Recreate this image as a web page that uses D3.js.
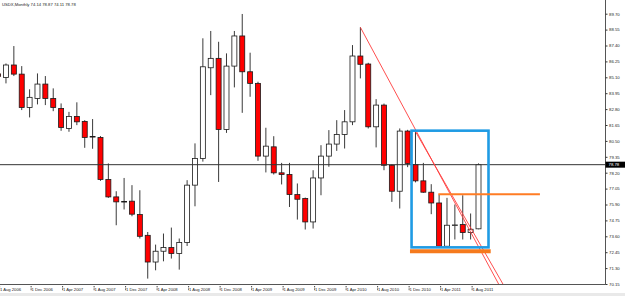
<!DOCTYPE html>
<html>
<head>
<meta charset="utf-8">
<script src="https://cdn.jsdelivr.net/npm/d3@7"></script>
<style>
  body { margin: 0; background: #fff; }
  text { font-family: 'Liberation Sans', Arial, sans-serif; fill: #222; }
</style>
</head>
<body>
<div id="main"></div>
<script>
/*********************************************************
 * Data
 *********************************************************/

// monthly candles, Aug 2006 .. Sep 2011
const months = [
  'Aug 2006', 'Sep 2006', 'Oct 2006', 'Nov 2006', 'Dec 2006',
  'Jan 2007', 'Feb 2007', 'Mar 2007', 'Apr 2007', 'May 2007', 'Jun 2007',
  'Jul 2007', 'Aug 2007', 'Sep 2007', 'Oct 2007', 'Nov 2007', 'Dec 2007',
  'Jan 2008', 'Feb 2008', 'Mar 2008', 'Apr 2008', 'May 2008', 'Jun 2008',
  'Jul 2008', 'Aug 2008', 'Sep 2008', 'Oct 2008', 'Nov 2008', 'Dec 2008',
  'Jan 2009', 'Feb 2009', 'Mar 2009', 'Apr 2009', 'May 2009', 'Jun 2009',
  'Jul 2009', 'Aug 2009', 'Sep 2009', 'Oct 2009', 'Nov 2009', 'Dec 2009',
  'Jan 2010', 'Feb 2010', 'Mar 2010', 'Apr 2010', 'May 2010', 'Jun 2010',
  'Jul 2010', 'Aug 2010', 'Sep 2010', 'Oct 2010', 'Nov 2010', 'Dec 2010',
  'Jan 2011', 'Feb 2011', 'Mar 2011', 'Apr 2011', 'May 2011', 'Jun 2011',
  'Jul 2011', 'Aug 2011', 'Sep 2011'
];
const open = [
  85.35, 85.09, 85.99, 85.33, 82.92,
  83.57, 84.61, 83.57, 82.85, 81.40, 82.27,
  81.91, 80.82, 80.75, 77.71, 76.45, 76.09,
  76.14, 75.17, 73.67, 71.74, 72.52, 72.79,
  72.35, 73.15, 77.30, 79.23, 85.79, 86.47,
  81.33, 85.91, 88.09, 85.50, 84.66, 79.40,
  80.07, 78.19, 78.07, 76.62, 76.33, 74.64,
  77.82, 79.40, 80.27, 80.97, 81.88, 86.64,
  86.06, 81.52, 83.09, 78.74, 76.86, 81.21,
  78.79, 77.61, 76.79, 76.01, 72.88, 74.40,
  74.45, 73.87, 74.14
];
const high = [
  85.60, 86.10, 87.36, 85.91, 84.23,
  85.38, 85.19, 84.30, 83.21, 82.60, 83.29,
  82.00, 82.08, 80.85, 78.87, 76.86, 77.82,
  77.30, 76.93, 73.91, 73.00, 73.80, 74.23,
  73.44, 77.66, 80.32, 87.92, 88.45, 87.67,
  86.83, 88.45, 89.68, 86.88, 84.78, 81.45,
  80.84, 78.91, 78.91, 77.42, 76.40, 78.38,
  80.19, 81.28, 82.00, 82.73, 87.43, 88.72,
  86.15, 83.52, 83.20, 78.80, 81.40, 81.30,
  81.16, 78.91, 77.37, 76.62, 76.38, 75.90,
  76.57, 75.25, 78.87
];
const low = [
  84.90, 84.66, 85.19, 82.73, 82.20,
  83.14, 83.09, 82.65, 81.23, 81.16, 81.64,
  80.00, 79.93, 77.61, 76.38, 74.40, 75.54,
  75.05, 73.44, 70.54, 71.14, 71.79, 71.99,
  71.19, 72.90, 75.77, 79.00, 83.81, 77.53,
  81.08, 84.37, 82.53, 83.69, 79.06, 78.22,
  78.07, 77.35, 75.72, 74.81, 74.09, 74.16,
  76.57, 78.63, 79.78, 79.95, 81.64, 85.02,
  81.40, 80.03, 78.38, 76.09, 75.61, 78.60,
  77.50, 76.75, 75.20, 72.76, 72.76, 73.37,
  73.37, 73.37, 74.11
];
const close = [
  85.16, 85.99, 85.33, 82.92, 83.65,
  84.61, 83.57, 82.92, 81.47, 82.27, 81.88,
  80.75, 80.78, 77.71, 76.45, 76.09, 76.12,
  75.20, 73.60, 71.74, 72.52, 72.79, 72.35,
  73.15, 77.30, 79.23, 85.86, 86.47, 81.33,
  85.91, 88.09, 85.50, 84.66, 79.40, 80.12,
  78.19, 78.07, 76.62, 76.28, 74.64, 77.82,
  79.40, 80.27, 80.97, 81.88, 86.64, 86.04,
  81.52, 83.09, 78.74, 76.86, 81.21, 78.87,
  77.61, 76.79, 76.01, 72.88, 74.40, 74.42,
  73.87, 74.11, 78.78
];

// axis labels
const priceTicks = [
  '89.70', '88.55', '87.40', '86.25', '85.10', '83.95', '82.80', '81.65', '80.50',
  '79.35', '78.20', '77.05', '75.90', '74.75', '73.60', '72.45', '71.30', '70.15'
];
const dateTicks = [
  '1 Aug 2006', '1 Dec 2006', '1 Apr 2007', '1 Aug 2007', '1 Dec 2007', '1 Apr 2008',
  '1 Aug 2008', '1 Dec 2008', '1 Apr 2009', '1 Aug 2009', '1 Dec 2009', '1 Apr 2010',
  '1 Aug 2010', '1 Dec 2010', '1 Apr 2011', '1 Aug 2011'
];

// drawn objects: [month index, price]
const trendLineA = [[46, 88.72], [63.6, 70.1]];
const trendLineB = [[52.94, 81.23], [64.15, 70.1]];
const boxCorners = [[52.5, 81.24], [62.27, 72.80]];
const supportBar = [[52.3, 72.51], [62.55, 72.51]];
const resistLine = [[55.9, 76.64], [68.8, 76.64]];

const title = 'USDX,Monthly  74.14 78.87 74.11 78.78';

/*********************************************************
 * Layout
 *********************************************************/

const svgWidth = 625;
const svgHeight = 296;
const plotRight = 605.5;
const plotBottom = 284.5;

const svg = d3
  .select('#main')
  .append('svg')
  .attr('width', svgWidth)
  .attr('height', svgHeight);

svg.append('rect')
  .attr('width', svgWidth)
  .attr('height', svgHeight)
  .attr('fill', '#fff');

svg.append('rect')
  .attr('y', 293)
  .attr('width', svgWidth)
  .attr('height', 3)
  .attr('fill', '#e9e9e9');

const x = d3.scaleLinear().domain([0, months.length - 1]).range([-1.9, 478.5]);
const y = d3.scaleLinear().domain([70.15, 89.70]).range([284, 13.7]);

svg.append('clipPath')
  .attr('id', 'plot-clip')
  .append('rect')
  .attr('width', plotRight)
  .attr('height', plotBottom);

const plot = svg.append('g').attr('clip-path', 'url(#plot-clip)');

/*********************************************************
 * Candles
 *********************************************************/

const candles = months.map((m, i) => ({
  i: i, o: open[i], h: high[i], l: low[i], c: close[i]
}));
const bodyW = 5;

plot.selectAll('.wick')
  .data(candles)
  .enter()
  .append('line')
  .attr('class', 'wick')
  .attr('x1', d => x(d.i))
  .attr('x2', d => x(d.i))
  .attr('y1', d => y(d.h))
  .attr('y2', d => y(d.l))
  .attr('stroke', '#3a3a3a')
  .attr('stroke-width', 1);

plot.selectAll('.body')
  .data(candles)
  .enter()
  .append('rect')
  .attr('class', 'body')
  .attr('x', d => x(d.i) - bodyW / 2)
  .attr('y', d => y(Math.max(d.o, d.c)))
  .attr('width', bodyW)
  .attr('height', d => Math.max(0.6, Math.abs(y(d.o) - y(d.c))))
  .attr('fill', d => (d.c < d.o ? '#ff0000' : '#ffffff'))
  .attr('stroke', '#1a1a1a')
  .attr('stroke-width', 0.8);

/*********************************************************
 * Price line and drawings
 *********************************************************/

const lastClose = close[close.length - 1];

plot.append('line')
  .attr('x1', 0)
  .attr('x2', plotRight)
  .attr('y1', y(lastClose))
  .attr('y2', y(lastClose))
  .attr('stroke', '#333')
  .attr('stroke-width', 1);

const line = d3.line().x(d => x(d[0])).y(d => y(d[1]));

[trendLineA, trendLineB].forEach(pts => {
  plot.append('path')
    .attr('d', line(pts))
    .attr('fill', 'none')
    .attr('stroke', '#ff3b3b')
    .attr('stroke-width', 0.9);
});

plot.append('rect')
  .attr('x', x(boxCorners[0][0]))
  .attr('y', y(boxCorners[0][1]))
  .attr('width', x(boxCorners[1][0]) - x(boxCorners[0][0]))
  .attr('height', y(boxCorners[1][1]) - y(boxCorners[0][1]))
  .attr('fill', 'none')
  .attr('stroke', '#1f9be4')
  .attr('stroke-width', 2.6);

plot.append('path')
  .attr('d', line(supportBar))
  .attr('stroke', '#f57a1e')
  .attr('stroke-width', 4);

plot.append('path')
  .attr('d', line(resistLine))
  .attr('stroke', '#ff7c24')
  .attr('stroke-width', 1.8);

/*********************************************************
 * Axes
 *********************************************************/

svg.append('line')
  .attr('x1', plotRight)
  .attr('x2', plotRight)
  .attr('y1', 0)
  .attr('y2', plotBottom)
  .attr('stroke', '#555');

svg.append('line')
  .attr('x1', 0)
  .attr('x2', plotRight)
  .attr('y1', plotBottom)
  .attr('y2', plotBottom)
  .attr('stroke', '#555');

const yAxis = d3.axisRight(y)
  .tickValues(priceTicks.map(Number))
  .tickFormat(d3.format('.2f'))
  .tickSize(2)
  .tickPadding(1.5);

const yAxisG = svg.append('g')
  .attr('transform', `translate(${plotRight},0)`)
  .call(yAxis);
yAxisG.select('.domain').remove();
yAxisG.selectAll('line').attr('stroke', '#333');
yAxisG.selectAll('text')
  .style('font-size', '4.3px')
  .style('font-family', "'Liberation Sans', Arial, sans-serif")
  .attr('fill', '#222');

// current price tag
svg.append('rect')
  .attr('x', plotRight)
  .attr('y', y(lastClose) - 3)
  .attr('width', svgWidth - plotRight)
  .attr('height', 6)
  .attr('fill', '#000');

svg.append('text')
  .attr('x', plotRight + 3)
  .attr('y', y(lastClose))
  .attr('dy', '0.35em')
  .style('font-size', '4.3px')
  .style('fill', '#fff')
  .text(d3.format('.2f')(lastClose));

const xAxis = d3.axisBottom(x)
  .tickValues(dateTicks.map((d, i) => i * 4))
  .tickFormat((d, i) => dateTicks[i])
  .tickSize(6);

const xAxisG = svg.append('g')
  .attr('transform', `translate(1,${plotBottom})`)
  .call(xAxis);
xAxisG.select('.domain').remove();
xAxisG.selectAll('line')
  .attr('y1', 1.5)
  .attr('stroke', '#444')
  .attr('stroke-dasharray', '1,0.6');
xAxisG.selectAll('text')
  .attr('text-anchor', 'start')
  .attr('x', 0.3)
  .attr('y', 6.6)
  .attr('dy', 0)
  .style('font-size', '4.2px')
  .style('font-family', "'Liberation Sans', Arial, sans-serif")
  .attr('fill', '#222');

// title
svg.append('text')
  .attr('x', 2)
  .attr('y', 6.3)
  .style('font-size', '4.2px')
  .text(title);
</script>
</body>
</html>
